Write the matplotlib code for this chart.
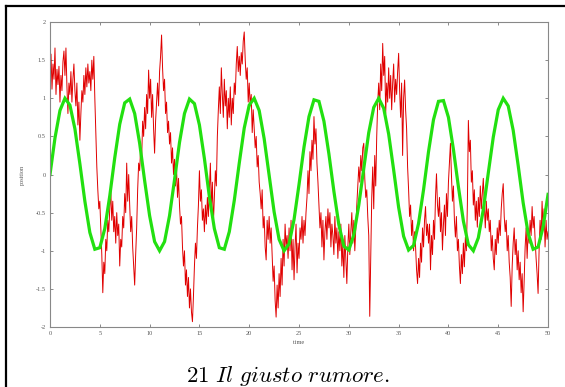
import numpy as np
import matplotlib
matplotlib.use("Agg")
import matplotlib.pyplot as plt
from matplotlib.lines import Line2D

plt.rcParams['mathtext.fontset'] = 'cm'

# time axis of the noisy trace: one value every 0.1
noisy_step = 0.1
# noisy position, one row per time unit
noisy = [
    1.35, 1.58, 1.12, 1.45, 1.25, 1.66, 1.05, 1.38, 1.18, 1.42,
    0.95, 1.30, 1.10, 1.48, 1.62, 1.30, 1.66, 1.15, 0.80, 1.20,
    1.05, 1.35, 0.95, 1.25, 1.45, 1.10, 0.90, 1.20, 0.65, 0.95,
    0.45, 0.80, 1.10, 0.95, 1.30, 1.05, 1.40, 1.15, 1.45, 1.20,
    1.35, 1.10, 1.50, 1.25, 1.55, 1.00, 0.55, 0.10, -0.20, -0.45,
    -0.35, -0.70, -1.05, -1.55, -1.15, -1.30, -0.85, -1.00, -0.60, -0.75,
    -0.45, -0.20, -0.60, -0.35, -0.75, -0.55, -0.90, -0.50, -0.80, -0.65,
    -1.20, -0.85, -0.95, -0.55, -0.70, -0.25, -0.50, 0.15, -0.35, 0.00,
    -0.40, -0.75, -0.55, -0.95, -1.20, -1.45, -1.05, -0.70, -0.20, 0.15,
    0.05, 0.35, 0.20, 0.70, 0.50, 0.88, 0.60, 1.05, 0.80, 1.37,
    1.00, 1.25, 0.75, 1.05, 0.60, 0.28, 0.70, 0.95, 1.20, 0.90,
    1.35, 1.55, 1.83, 1.40, 1.10, 1.25, 0.80, 0.95, 0.55, 0.70,
    0.40, 0.55, 0.15, 0.35, 0.00, 0.20, -0.15, 0.10, -0.30, -0.05,
    -0.40, -0.65, -0.55, -0.95, -1.20, -1.00, -1.45, -1.25, -1.60, -1.35,
    -1.75, -1.50, -1.80, -1.93, -1.60, -1.20, -0.90, -1.10, -0.70, -0.40,
    0.05, -0.35, -0.20, -0.60, -0.45, -0.75, -0.40, -0.65, -0.30, -0.55,
    -0.20, 0.15, -0.45, -0.10, -0.65, -0.30, 0.05, -0.15, 0.50, 0.85,
    1.15, 0.80, 1.40, 1.05, 0.75, 1.25, 0.90, 1.10, 0.60, 1.00,
    0.75, 1.15, 0.65, 1.00, 0.80, 1.20, 1.05, 1.45, 1.68, 1.35,
    1.55, 1.30, 1.60, 1.45, 1.75, 1.87, 1.50, 1.25, 1.40, 0.95,
    1.20, 0.90, 1.05, 0.55, 0.85, 0.60, 0.35, 0.50, 0.10, 0.25,
    -0.10, -0.25, -0.45, -0.20, -0.70, -0.55, -0.95, -1.12, -0.60, -0.85,
    -0.55, -0.90, -0.70, -1.05, -1.40, -1.20, -1.65, -1.87, -1.45, -1.75,
    -1.30, -1.60, -1.10, -1.45, -0.85, -1.20, -0.65, -0.95, -0.80, -1.10,
    -0.70, -1.00, -0.60, -1.25, -0.85, -1.38, -0.95, -0.65, -1.29, -0.90,
    -1.10, -0.70, -0.85, -0.55, -0.90, -0.60, -0.80, -0.50, -0.30, 0.05,
    -0.25, 0.30, 0.05, 0.45, 0.20, 0.76, 0.40, 0.60, 0.15, -0.10,
    -0.40, -0.70, -0.50, -0.95, -0.60, -1.12, -0.75, -0.55, -0.85, -0.45,
    -0.70, -0.50, -0.95, -0.65, -0.80, -1.05, -0.55, -0.90, -0.70, -1.10,
    -0.75, -1.00, -0.65, -1.20, -0.90, -1.35, -0.80, -1.10, -1.43, -0.95,
    -0.65, -1.05, -0.75, -0.50, -0.90, -0.60, -1.00, -0.70, -0.40, -0.15,
    0.10, -0.10, 0.25, 0.05, 0.35, 0.41, -0.05, -0.30, -0.20, -0.55,
    -0.80, -1.86, -1.10, -0.30, 0.10, -0.45, 0.25, -0.15, 0.50, 0.95,
    1.20, 0.85, 1.45, 1.10, 1.72, 1.30, 1.55, 0.80, 1.20, 0.95,
    1.40, 1.00, 1.30, 0.85, 1.20, 1.45, 0.95, 1.25, 1.05, 1.35,
    1.59, 1.10, 0.75, 1.20, 0.25, 1.00, 1.24, 0.85, 0.60, 0.10,
    -0.20, -0.55, -0.40, -0.80, -0.60, -1.00, -0.75, -0.95, -1.25, -1.43,
    -1.10, -1.35, -0.90, -1.15, -0.70, -0.95, -0.60, -0.42, -0.80, -0.65,
    -0.90, -0.65, -1.25, -0.80, -1.05, -0.60, -0.85, -0.30, 0.01, -0.40,
    -0.55, -0.30, -0.75, -0.50, -0.99, -0.65, -0.40, -0.80, -0.25, -0.55,
    -0.10, 0.15, 0.41, 0.00, -0.35, -0.15, -0.60, -0.82, -0.55, -1.00,
    -0.85, -1.20, -1.43, -1.05, -1.30, -0.90, -1.21, -0.82, -1.00, -0.40,
    0.71, 0.30, 0.45, -0.10, 0.05, -0.40, -0.20, -0.60, -0.35, -0.69,
    -0.30, -0.55, -0.15, -0.45, -0.25, -0.05, -0.40, -0.70, -0.35, -0.60,
    -0.45, -0.75, -0.60, -1.00, -0.80, -1.10, -1.25, -0.85, -1.05, -0.70,
    -0.90, -0.60, -0.80, -0.45, -0.25, -0.12, -0.55, -0.75, -0.60, -1.00,
    -0.80, -1.15, -1.35, -1.73, -1.20, -0.90, -0.70, -1.05, -0.85, -1.25,
    -1.00, -1.38, -1.15, -1.55, -1.30, -1.80, -1.40, -0.95, -0.70, -1.10,
    -0.75, -0.90, -0.60, -0.80, -0.42, -0.70, -0.55, -0.85, -1.10, -1.30,
    -1.56, -1.00, -0.60, -0.85, -0.35, -0.70, -0.45, -0.95, -0.60, -0.85,
    -0.75,
]

# driving signal, one value every 0.5
drive_step = 0.5
drive = [
    0.00, 0.48, 0.84, 1.00, 0.91, 0.60, 0.14, -0.35, -0.76, -0.98,
    -0.96, -0.71, -0.28, 0.22, 0.66, 0.94, 0.99, 0.80, 0.41, -0.08,
    -0.54, -0.88, -1.00, -0.88, -0.54, -0.07, 0.42, 0.80, 0.99, 0.93,
    0.65, 0.21, -0.29, -0.71, -0.96, -0.98, -0.75, -0.34, 0.15, 0.61,
    0.91, 1.00, 0.84, 0.47, -0.01, -0.49, -0.85, -1.00, -0.91, -0.59,
    -0.13, 0.36, 0.76, 0.98, 0.96, 0.70, 0.27, -0.22, -0.66, -0.94,
    -0.99, -0.79, -0.40, 0.08, 0.55, 0.88, 1.00, 0.87, 0.53, 0.06,
    -0.43, -0.81, -0.99, -0.93, -0.64, -0.20, 0.30, 0.72, 0.96, 0.97,
    0.75, 0.33, -0.16, -0.61, -0.92, -1.00, -0.83, -0.46, 0.02, 0.49,
    0.85, 1.00, 0.90, 0.58, 0.12, -0.37, -0.77, -0.98, -0.95, -0.69,
    -0.26,
]

xticks = [0, 5, 10, 15, 20, 25, 30, 35, 40, 45, 50]
yticks = [-2, -1.5, -1, -0.5, 0, 0.5, 1, 1.5, 2]
ytick_labels = ['-2', '-1.5', '-1', '-0.5', '0', '0.5', '1', '1.5', '2']

t_noisy = np.arange(len(noisy)) * noisy_step
t_drive = np.arange(len(drive)) * drive_step

fig = plt.figure(figsize=(5.65, 3.87), dpi=100)
ax = fig.add_axes([0.0885, 0.155, 0.8815, 0.788])

ax.plot(t_noisy, noisy, color='#e00000', lw=0.7)
ax.plot(t_drive, drive, color='#22e010', lw=2.3, solid_joinstyle='miter')

ax.set_xlim(0, 50)
ax.set_ylim(-2, 2)
ax.set_xticks(xticks)
ax.set_yticks(yticks)
ax.set_yticklabels(ytick_labels)
ax.tick_params(direction='in', top=True, right=True, length=2.5, width=0.6,
               color='#777777', labelsize=4.5, labelcolor='#555555', pad=3)
for lab in ax.get_xticklabels() + ax.get_yticklabels():
    lab.set_family('Liberation Serif')
for s in ax.spines.values():
    s.set_color('#888888')
    s.set_linewidth(0.8)

ax.set_xlabel('time', fontsize=4.5, family='Liberation Serif', color='#555555', labelpad=3)
ax.set_ylabel('position', fontsize=4.5, family='Liberation Serif', color='#555555', labelpad=8)

# frame around the figure (top and left edges only are visible)
fig.add_artist(Line2D([6 / 565, 6 / 565], [0, 1 - 6 / 387], transform=fig.transFigure,
                      color='black', lw=1.6, solid_capstyle='projecting'))
fig.add_artist(Line2D([6 / 565, 1], [1 - 6 / 387, 1 - 6 / 387], transform=fig.transFigure,
                      color='black', lw=1.6, solid_capstyle='projecting'))

fig.text(0.51, 1 - 382 / 387, r'$\mathrm{21}\ \mathit{Il\ giusto\ rumore.}$',
         ha='center', va='baseline', fontsize=16.5)

fig.savefig('out.png', dpi=100)
